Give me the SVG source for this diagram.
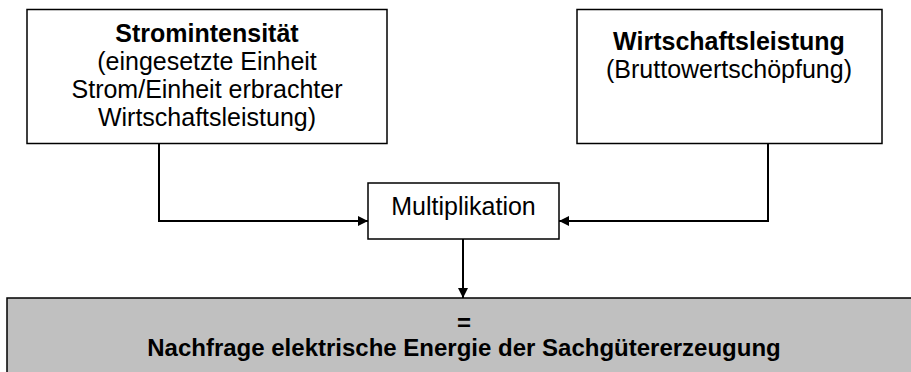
<svg xmlns="http://www.w3.org/2000/svg" width="911" height="372" viewBox="0 0 911 372">
<defs>
<style>
.box{fill:#fff;stroke:#000;stroke-width:1.5}
.res{fill:#c0c0c0;stroke:#000;stroke-width:1.5}
.t{font-family:"Liberation Sans",Arial,sans-serif;font-size:25px;fill:#000;text-anchor:middle}
.s{font-size:24px}
.b{font-weight:bold}
.c{fill:none;stroke:#000;stroke-width:2}
</style>
<marker id="ah" markerWidth="10" markerHeight="10" refX="10" refY="5" orient="auto" markerUnits="userSpaceOnUse">
<path d="M0,0 L10,5 L0,10 Z" fill="#000"/>
</marker>
</defs>
<rect width="911" height="372" fill="#fff"/>
<g id="strom">
<rect class="box" x="27" y="9.5" width="360" height="134"/>
<text class="t b" x="207" y="42">Stromintensität</text>
<text class="t" x="207" y="70">(eingesetzte Einheit</text>
<text class="t" x="207" y="98">Strom/Einheit erbrachter</text>
<text class="t" x="207" y="126">Wirtschaftsleistung)</text>
</g>
<g id="wirtschaft">
<rect class="box" x="577" y="9.5" width="305" height="134"/>
<text class="t b" x="729" y="50">Wirtschaftsleistung</text>
<text class="t" x="729" y="78">(Bruttowertschöpfung)</text>
</g>
<g id="multi">
<rect class="box" x="368" y="183" width="191" height="56"/>
<text class="t" x="463.5" y="215">Multiplikation</text>
</g>
<g id="ergebnis">
<rect class="res" x="7" y="298" width="910" height="80"/>
<text class="t s b" x="464" y="331">=</text>
<text class="t s b" x="464" y="356">Nachfrage elektrische Energie der Sachgütererzeugung</text>
</g>
<g id="connectors">
<path class="c" d="M159,143.5 V221 H368" marker-end="url(#ah)"/>
<path class="c" d="M768,143.5 V221 H559" marker-end="url(#ah)"/>
<path class="c" d="M463,239 V298" marker-end="url(#ah)"/>
</g>
</svg>
